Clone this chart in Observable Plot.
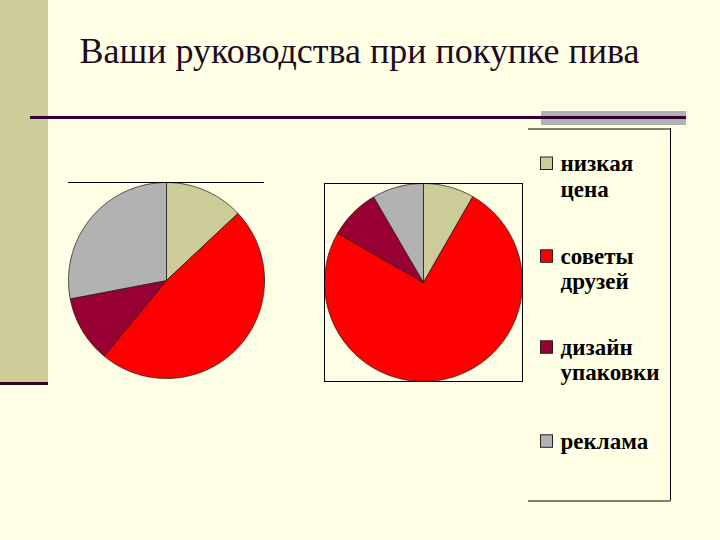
<!DOCTYPE html>
<html>
<head>
<meta charset="utf-8">
<script src="https://cdn.jsdelivr.net/npm/d3@7"></script>
<script src="https://cdn.jsdelivr.net/npm/@observablehq/plot@0.6"></script>
<style>
  html, body { margin: 0; padding: 0; background: #FFFFE5; }
  #slide { position: relative; width: 720px; height: 540px; overflow: hidden; background: #FFFFE5; }
  .abs { position: absolute; }
</style>
</head>
<body>
<div id="slide"></div>
<script>
// ---- data ----
const titleText = "Ваши руководства при покупке пива";
const categories = ["низкая цена", "советы друзей", "дизайн упаковки", "реклама"];
const pie1Values = [13, 48, 11, 28];
const pie2Values = [8.3, 75, 8.3, 8.4];
const colors = ["#CCCC99", "#FF0000", "#990033", "#B2B2B2"];

const serifFont = "Liberation Serif";
const slide = document.getElementById("slide");
function box(css) {
  const d = document.createElement("div");
  d.className = "abs";
  Object.assign(d.style, css);
  slide.appendChild(d);
  return d;
}

// slide decorations
box({left: "0px", top: "0px", width: "48px", height: "382px", background: "#CCCC99"});
box({left: "0px", top: "382px", width: "48px", height: "3px", background: "#330022"});
box({left: "541px", top: "111px", width: "145px", height: "14px", background: "#B2B2B2"});
box({left: "30px", top: "116px", width: "656px", height: "2.5px", background: "#330033"});

// title as SVG text
const titlePlot = Plot.plot({
  width: 640, height: 80, margin: 0,
  x: {domain: [0, 640], range: [0, 640], axis: null},
  y: {domain: [0, 80], range: [0, 80], axis: null},
  style: {background: "transparent", overflow: "visible", fontFamily: serifFont},
  marks: [
    Plot.text([titleText], {x: 79, y: 62, text: d => d, textAnchor: "start", lineAnchor: "bottom",
      fontSize: 36, fontFamily: serifFont, fill: "#1E0A1E"})
  ]
});
box({left: "0px", top: "0px"}).appendChild(titlePlot);

// pie geometry from data
function slicePoints(values) {
  const arcs = d3.pie().sort(null).value(d => d)(values);
  const rows = [];
  arcs.forEach((a, i) => {
    const cat = categories[i];
    const n = Math.max(2, Math.ceil((a.endAngle - a.startAngle) / 0.01));
    rows.push({cat, x: 0, y: 0});
    for (let k = 0; k <= n; k++) {
      const ang = a.startAngle + (a.endAngle - a.startAngle) * k / n;
      rows.push({cat, x: Math.sin(ang), y: Math.cos(ang)});
    }
    rows.push({cat, x: 0, y: 0});
  });
  return rows;
}

function pie(values, size, framed) {
  const marks = [
    Plot.line(slicePoints(values), {x: "x", y: "y", z: "cat", fill: "cat", stroke: "#2a1a1a", strokeWidth: 0.8, strokeLinejoin: "miter"})
  ];
  if (framed) marks.push(Plot.frame({stroke: "#000", strokeWidth: 1}));
  else marks.push(Plot.ruleY([1], {stroke: "#000", strokeWidth: 1}));
  return Plot.plot({
    width: size, height: size,
    margin: 1,
    x: {domain: [-1, 1], axis: null},
    y: {domain: [-1, 1], axis: null},
    color: {domain: categories, range: colors},
    style: {background: "transparent", overflow: "visible"},
    marks
  });
}

box({left: "67px", top: "181px"}).appendChild(pie(pie1Values, 198, false));
box({left: "323px", top: "182px"}).appendChild(pie(pie2Values, 200, true));

// legend as SVG (local coordinates of the legend box)
const W = 143, H = 373;
const firstBaseline = [42.5, 135.3, 226.3, 320.3];
const legendRows = [];
categories.forEach((c, i) => {
  c.split(" ").forEach((line, k) => legendRows.push({cat: c, line, y: firstBaseline[i] + k * 25.5}));
});
const swatches = categories.map((c, i) => ({cat: c, y1: firstBaseline[i] - 13.5, y2: firstBaseline[i] - 1}));
const legendPlot = Plot.plot({
  width: W, height: H, margin: 0,
  x: {domain: [0, W], range: [0, W], axis: null},
  y: {domain: [0, H], range: [0, H], axis: null},
  color: {domain: categories, range: colors},
  style: {background: "transparent", overflow: "visible", fontFamily: serifFont},
  marks: [
    Plot.ruleY([0.5, H - 0.5], {x1: 0, x2: 142.5, stroke: "#000", strokeWidth: 1}),
    Plot.ruleX([142], {y1: 0, y2: H - 0.5, stroke: "#000", strokeWidth: 1}),
    Plot.rect(swatches, {x1: 12.5, x2: 24.5, y1: "y1", y2: "y2", fill: "cat", stroke: "#222", strokeWidth: 1}),
    Plot.text(legendRows, {x: 32, y: "y", text: "line", textAnchor: "start", lineAnchor: "bottom",
      fontSize: 23, fontWeight: "bold", fontFamily: serifFont, fill: "#000"})
  ]
});
box({left: "528px", top: "128px"}).appendChild(legendPlot);
</script>
</body>
</html>
